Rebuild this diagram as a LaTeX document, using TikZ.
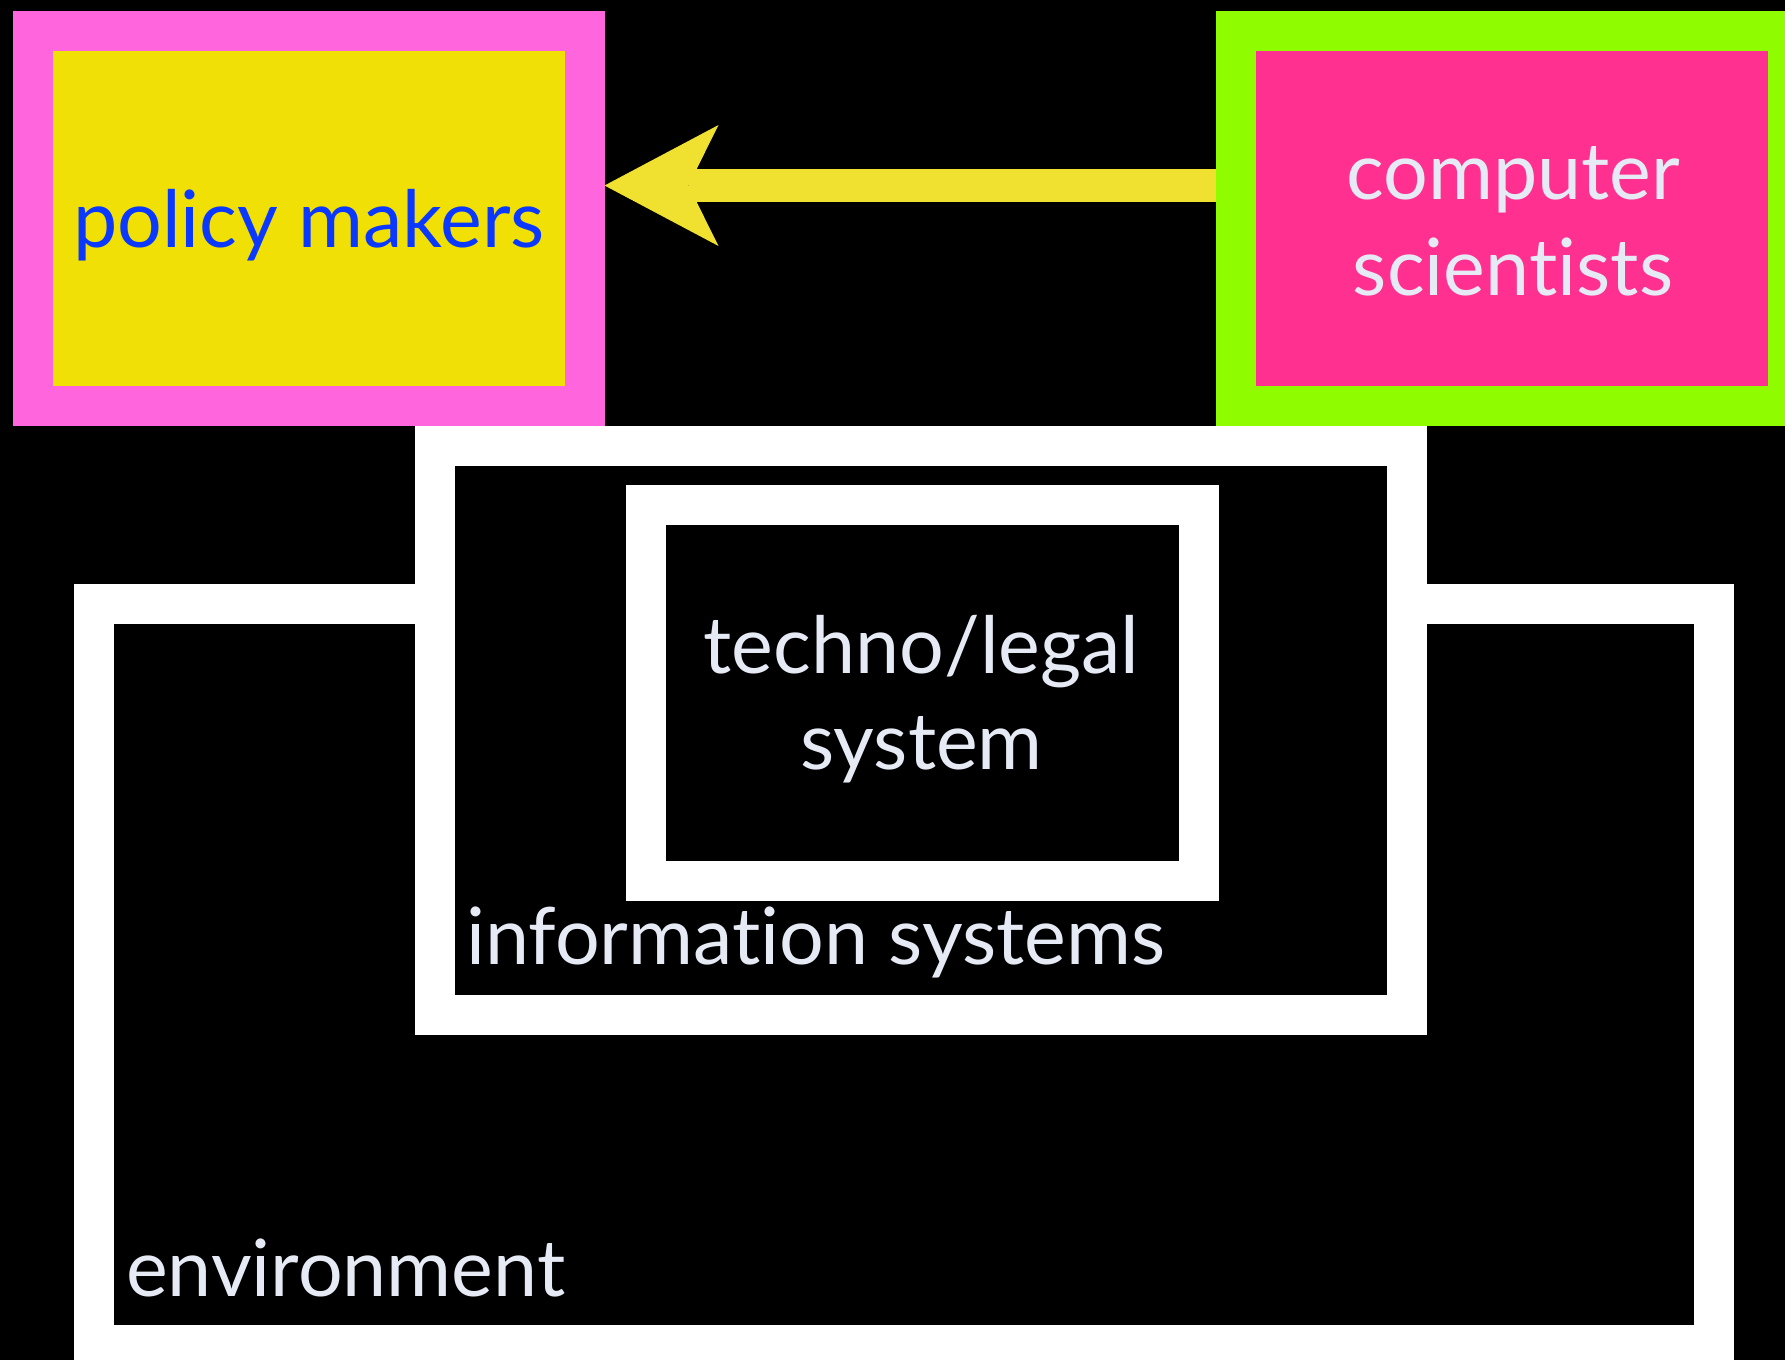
\documentclass[tikz,border=0pt]{standalone}
\usepackage{fontspec}
\setmainfont{Lato}[Ligatures={NoCommon}]
\usetikzlibrary{arrows.meta,positioning}

\definecolor{pinkframe}{RGB}{255,102,221}
\definecolor{yellowfill}{RGB}{240,224,6}
\definecolor{greenframe}{RGB}{144,252,0}
\definecolor{pinkfill}{RGB}{255,48,144}
\definecolor{arrowyellow}{RGB}{240,224,48}
\definecolor{policyblue}{RGB}{10,56,255}
\definecolor{paletext}{RGB}{230,234,244}

\tikzset{
  frame/.style={rectangle, line width=40pt, inner sep=0pt},
  whiteframe/.style={frame, draw=white, fill=black},
  lbl/.style={inner sep=0pt, text=paletext, align=center},
  pushline/.style={draw=arrowyellow, line width=33pt,
    -{Stealth[length=114pt, width=121pt, inset=30pt, line width=0pt, fill=arrowyellow]}}
}

\begin{document}
\begin{tikzpicture}[x=1pt,y=-1pt,font=\fontsize{79}{96}\selectfont]
  \fill[black] (0,0) rectangle (1785,1360);
  \useasboundingbox (0,0) rectangle (1785,1360);
  \clip (0,0) rectangle (1785,1360);

  % who talks to whom
  \node[frame, draw=pinkframe, fill=yellowfill, minimum width=552pt, minimum height=375pt] (policy) at (308.5,218.5) {};
  \node[frame, draw=greenframe, fill=pinkfill, minimum width=552pt, minimum height=375pt] (sci) at (1512,218.5) {};
  \node[inner sep=0pt, text=policyblue, anchor=base] (policytxt) at (309,247) {policy makers};
  \node[lbl, anchor=base] (scitxt) at (1513,295) {computer\\scientists};
  \draw[pushline] ([yshift=33pt]sci.west) -- ([yshift=33pt]policy.east);

  % nested systems
  \node[whiteframe, minimum width=1620pt, minimum height=741pt] (env) at (904,974.5) {};
  \node[whiteframe, minimum width=972pt, minimum height=569pt] (info) at (921,730.5) {};
  \node[whiteframe, minimum width=553pt, minimum height=376pt] (techno) at (922.5,693) {};
  \node[lbl, anchor=base] (technotxt) at (921.5,769) {techno/legal\\system};
  \node[lbl, anchor=base west] (infotxt) at (466,964) {information systems};
  \node[lbl, anchor=base west] (envtxt) at (126,1296) {environment};
\end{tikzpicture}
\end{document}
